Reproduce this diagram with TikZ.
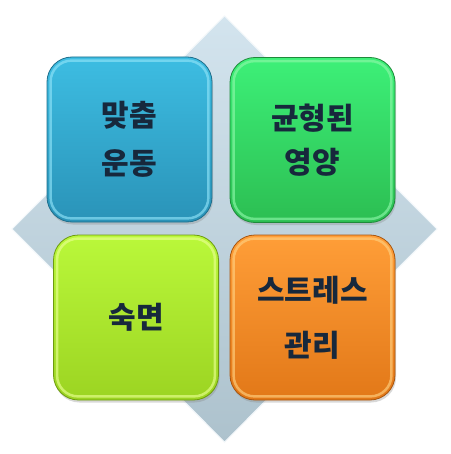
\documentclass[tikz,border=0pt]{standalone}
\usepackage{fontspec}
\newfontfamily\kr{Noto Sans CJK KR}[UprightFont={* Black}, BoldFont={* Black}]
\usetikzlibrary{shadows}
\definecolor{txt}{HTML}{17283C}
\definecolor{dtop}{HTML}{D3E4EE}
\definecolor{dbot}{HTML}{ADC2CD}
\definecolor{btop}{HTML}{3DBDE2}\definecolor{bbot}{HTML}{2A93B8}\definecolor{bbrd}{HTML}{1F6F8C}\definecolor{bhl}{HTML}{8FE3F8}
\definecolor{gtop}{HTML}{3DF078}\definecolor{gbot}{HTML}{2CBE52}\definecolor{gbrd}{HTML}{1E8A3A}\definecolor{ghl}{HTML}{8CF7A8}
\definecolor{ytop}{HTML}{BAF83A}\definecolor{ybot}{HTML}{9CD422}\definecolor{ybrd}{HTML}{6E9A10}\definecolor{yhl}{HTML}{E8FF90}
\definecolor{otop}{HTML}{FF9E38}\definecolor{obot}{HTML}{E27818}\definecolor{obrd}{HTML}{A8560E}\definecolor{ohl}{HTML}{FFD080}
\tikzset{
  box/.style={rectangle, rounded corners=25pt, minimum width=165pt, minimum height=165pt,
    inner sep=0pt, line width=0.8pt, align=center, text=txt,
    font=\kr\fontsize{30}{48}\selectfont,
    drop shadow={shadow xshift=1pt, shadow yshift=-2.5pt, opacity=0.3}},
  hl/.style={rounded corners=21pt, line width=2.5pt, opacity=0.65},
  diam/.style={top color=dtop, bottom color=dbot, draw=white!70!dtop, line width=1pt}
}
\begin{document}
\begin{tikzpicture}[x=1pt,y=-1pt]
\useasboundingbox (0,0) rectangle (450,454);
\fill[white] (0,0) rectangle (450,454);
\shade[diam] (224.5,16) -- (437,229) -- (224.5,442) -- (12,229) -- cycle;
\node[box, top color=btop, bottom color=bbot, draw=bbrd] (a) at (129.5,139.5) {맞춤\\운동};
\node[box, top color=gtop, bottom color=gbot, draw=gbrd] (b) at (312.5,140) {균형된\\[-4pt]영양};
\node[box, top color=ytop, bottom color=ybot, draw=ybrd] (c) at (136,317.5) {숙면};
\node[box, top color=otop, bottom color=obot, draw=obrd] (d) at (312.5,317.5) {스트레스\\[7pt]관리};
\foreach \n/\c in {a/bhl,b/ghl,c/yhl,d/ohl}{
  \draw[hl, draw=\c] ([shift={(4,4)}]\n.north west) rectangle ([shift={(-4,-4)}]\n.south east);
}
\end{tikzpicture}
\end{document}
